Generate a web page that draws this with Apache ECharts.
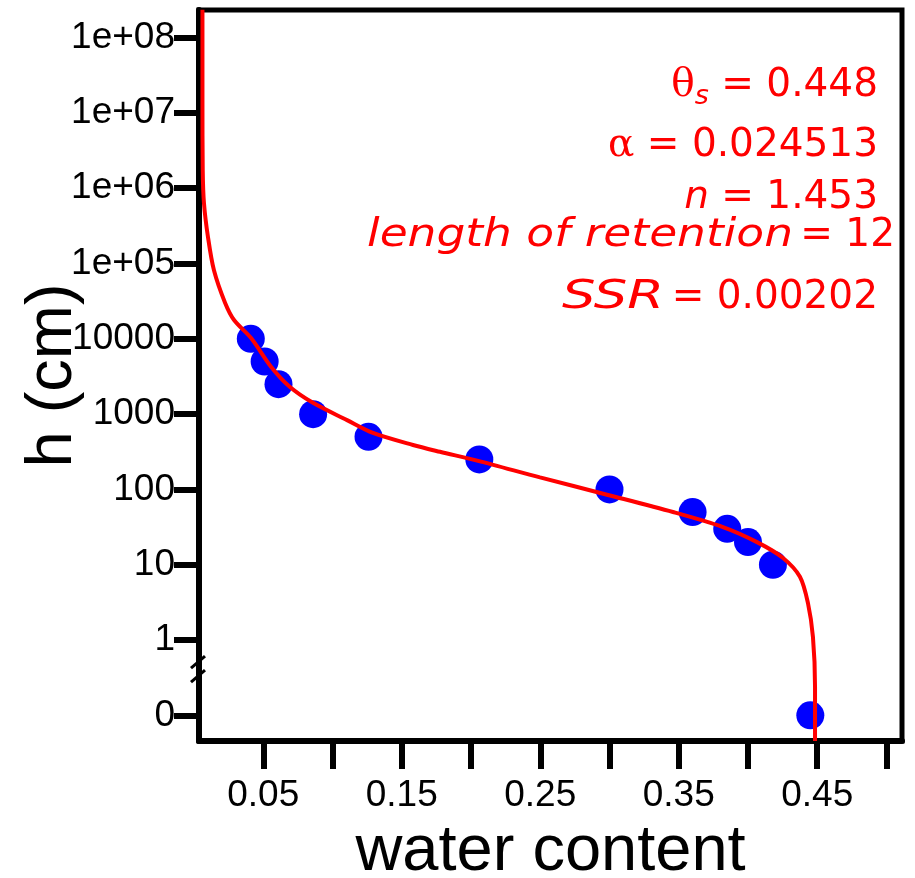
<!DOCTYPE html>
<html>
<head>
<meta charset="utf-8">
<script src="https://cdn.jsdelivr.net/npm/echarts@6/dist/echarts.min.js"></script>
<style>
  html, body { margin: 0; padding: 0; background: #fff; }
  #main { width: 915px; height: 878px; }
</style>
</head>
<body>
<div id="main"></div>
<script>
// observed points: water content and pressure head h (cm)
const thetaObs = [0.041, 0.051, 0.061, 0.086, 0.126, 0.206, 0.300, 0.360, 0.385, 0.400, 0.418, 0.445];
const hObs = [10000, 5000, 2500, 1000, 500, 250, 100, 50, 30, 20, 10, 0];

// fitted curve: water content and axis position (log10 h, broken below 1)
const thetaFit = [0.0061, 0.0061, 0.0063, 0.0072, 0.0101, 0.0144, 0.0224, 0.0289, 0.0412, 0.0556,
  0.0693, 0.0859, 0.1105, 0.1292, 0.1581, 0.1776, 0.2051, 0.2498, 0.2982, 0.3458,
  0.3819, 0.4065, 0.4253, 0.4375, 0.4433, 0.4469, 0.4484, 0.4484];
const posFit = [8.37, 7.17, 6.24, 5.80, 5.35, 4.91, 4.48, 4.25, 4.01, 3.63,
  3.36, 3.15, 2.92, 2.75, 2.59, 2.50, 2.38, 2.16, 1.93, 1.70,
  1.50, 1.30, 1.09, 0.84, 0.49, 0.04, -0.62, -1.34];

// y tick labels, from position -1 (h = 0) up to 8
const yTickPos = [-1, 0, 1, 2, 3, 4, 5, 6, 7, 8];
const yTickLabels = ['0', '1', '10', '100', '1000', '10000', '1e+05', '1e+06', '1e+07', '1e+08'];
const xTicks = [0.05, 0.1, 0.15, 0.2, 0.25, 0.3, 0.35, 0.4, 0.45, 0.5];
const xLabels = [0.05, 0.15, 0.25, 0.35, 0.45];

// axis position of a head value: log10 for h >= 1, h = 0 sits one decade below 1
function headPos(h) {
  return h > 0 ? Math.log10(h) : -1;
}

const xMin = 0.0036, xMax = 0.5112, yMin = -1.341, yMax = 8.367;

const chart = echarts.init(document.getElementById('main'));

const option = {
  animation: false,
  grid: {
    left: 199, right: 13, top: 10, bottom: 137,
    outerBoundsMode: 'none',
    containLabel: false,
    show: true, borderColor: '#000', borderWidth: 5
  },
  xAxis: {
    type: 'value',
    min: xMin, max: xMax,
    name: 'water content',
    nameLocation: 'middle',
    nameGap: 79,
    nameMoveOverlap: false,
    nameTextStyle: { fontFamily: 'Liberation Sans', fontSize: 65, color: '#000' },
    axisLine: { onZero: false, lineStyle: { color: '#000', width: 6 } },
    axisTick: { show: true, length: 28, lineStyle: { color: '#000', width: 6 }, customValues: xTicks },
    axisLabel: {
      customValues: xLabels,
      fontFamily: 'Liberation Sans', fontSize: 37, color: '#000', margin: 36,
      formatter: v => v.toFixed(2)
    },
    splitLine: { show: false }
  },
  yAxis: {
    type: 'value',
    min: yMin, max: yMax,
    name: 'h (cm)',
    nameLocation: 'middle',
    nameGap: 113,
    nameMoveOverlap: false,
    nameTextStyle: { fontFamily: 'Liberation Sans', fontSize: 65, color: '#000' },
    axisLine: { onZero: false, lineStyle: { color: '#000', width: 6 } },
    axisTick: { show: true, length: 25, lineStyle: { color: '#000', width: 6 }, customValues: yTickPos },
    axisLabel: {
      customValues: yTickPos,
      fontFamily: 'Liberation Sans', fontSize: 37, color: '#000', margin: 24,
      formatter: v => yTickLabels[yTickPos.indexOf(Math.round(v))]
    },
    splitLine: { show: false }
  },
  series: [
    {
      type: 'scatter',
      data: thetaObs.map((t, i) => [t, headPos(hObs[i])]),
      symbolSize: 28,
      itemStyle: { color: '#0000ff', opacity: 1 },
      z: 2
    },
    {
      type: 'line',
      data: thetaFit.map((t, i) => [t, posFit[i]]),
      smooth: 0.3,
      showSymbol: false,
      lineStyle: { color: '#ff0000', width: 4 },
      z: 3
    }
  ]
};

chart.setOption(option);

// text measuring for the stretched italic words
const mctx = document.createElement('canvas').getContext('2d');
function textWidth(str, font) {
  mctx.font = font;
  return mctx.measureText(str).width;
}

const red = '#ff0000';
const italicFont = 'italic 39px "DejaVu Sans"';
const rich = {
  g: { fontFamily: 'DejaVu Serif', fontSize: 39, fill: red },
  s: { fontFamily: 'DejaVu Sans', fontStyle: 'italic', fontSize: 27, fill: red, padding: [22, 0, 0, 0] },
  v: { fontFamily: 'DejaVu Sans', fontSize: 39, fill: red },
  i: { fontFamily: 'DejaVu Sans', fontStyle: 'italic', fontSize: 39, fill: red }
};

function richLine(txt, x, y) {
  return {
    type: 'text', z: 10, x: x, y: y,
    style: {
      text: txt, rich: rich, align: 'right', verticalAlign: 'middle',
      fontFamily: 'DejaVu Sans', fontSize: 39, fill: red
    }
  };
}

function plainLine(txt, x, y, align) {
  return {
    type: 'text', z: 10, x: x, y: y,
    style: {
      text: txt, align: align, verticalAlign: 'middle',
      fontFamily: 'DejaVu Sans', fontSize: 39, fill: red
    }
  };
}

// italic words in the reference are drawn wide; stretch them between two edges
function wideItalic(txt, left, right, y) {
  const w = textWidth(txt, italicFont);
  return {
    type: 'text', z: 10, x: left, y: y, scaleX: (right - left) / w,
    style: {
      text: txt, align: 'left', verticalAlign: 'middle',
      fontFamily: 'DejaVu Sans', fontStyle: 'italic', fontSize: 39, fill: red
    }
  };
}

// axis break mark
const brk = chart.convertToPixel({ xAxisIndex: 0, yAxisIndex: 0 }, [xMin, -0.4]);
const ax = brk[0], ay = brk[1];

chart.setOption({
  graphic: [
    {
      type: 'line', z: 10,
      shape: { x1: ax - 8, y1: ay - 2, x2: ax + 6, y2: ay - 14 },
      style: { stroke: '#000', lineWidth: 3 }
    },
    {
      type: 'line', z: 10,
      shape: { x1: ax - 8, y1: ay + 12, x2: ax + 6, y2: ay },
      style: { stroke: '#000', lineWidth: 3 }
    },
    richLine('{g|θ}{s|s}{v| = 0.448}', 878, 86),
    richLine('{g|α}{v| = 0.024513}', 878, 146),
    richLine('{i|n}{v| = 1.453}', 878, 198),
    wideItalic('length of retention', 367, 793, 236),
    plainLine('= 12', 895, 236, 'right'),
    wideItalic('SSR', 562, 664, 298),
    plainLine('= 0.00202', 878, 298, 'right')
  ]
});
</script>
</body>
</html>
